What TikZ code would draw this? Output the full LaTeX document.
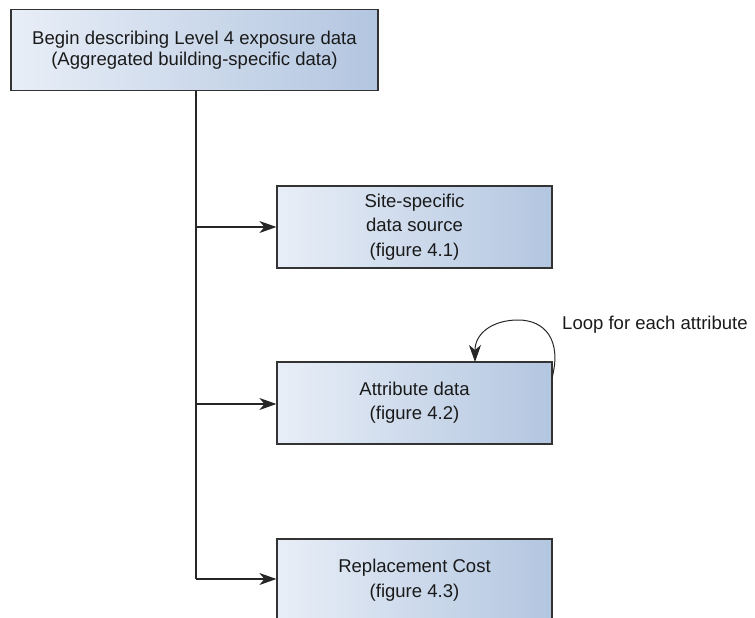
\documentclass[tikz,border=0pt]{standalone}
\usepackage{fontspec}
\setmainfont{Liberation Sans}
\usetikzlibrary{arrows.meta,calc}
\definecolor{boxl}{HTML}{E8EEF7}
\definecolor{boxr}{HTML}{B3C6E0}
\definecolor{txt}{HTML}{1A1A1A}
\tikzset{
  box/.style={draw=black!80, line width=1.2bp, left color=boxl, right color=boxr, shading angle=90,
    minimum width=275bp, minimum height=82bp, align=center, font=\fontsize{18.6}{24.5}\selectfont, text=txt, inner sep=0pt},
  conn/.style={line width=1.2bp, draw=black!85, -{Stealth[length=17bp,width=12bp,inset=5bp]}},
  trunk/.style={line width=1.2bp, draw=black!85}
}
\begin{document}
\begin{tikzpicture}[x=1bp,y=-1bp]
\useasboundingbox (0,0) rectangle (755,618);
\clip (0,0) rectangle (755,618);
\node[box, minimum width=367bp, minimum height=81bp, font=\fontsize{18.6}{21.5}\selectfont] (top) at (194.5,50) {Begin describing Level 4 exposure data\\(Aggregated building-specific data)};
\node[box] (b1) at (414.5,227) {Site-specific\\data source\\(figure 4.1)};
\node[box] (b2) at (414.5,403) {Attribute data\\(figure 4.2)};
\node[box] (b3) at (414.5,580) {Replacement Cost\\(figure 4.3)};
\coordinate (t1) at (196,227);
\coordinate (t2) at (196,404);
\coordinate (t3) at (196,579);
\draw[trunk] (top.south -| t1) -- (t3);
\draw[conn] (t1) -- (t1 -| b1.west);
\draw[conn] (t2) -- (t2 -| b2.west);
\draw[conn] (t3) -- (t3 -| b3.west);
\coordinate (ls) at (552,378);
\coordinate (le) at (475,362);
\draw[conn, line width=1bp] (ls) .. controls (562,340) and (545,320) .. (518,320) .. controls (493,320) and (475,333) .. (le);
\node[anchor=west, font=\fontsize{18.6}{22}\selectfont, text=txt, inner sep=0pt] (lbl) at (562,325) {Loop for each attribute};
\end{tikzpicture}
\end{document}
